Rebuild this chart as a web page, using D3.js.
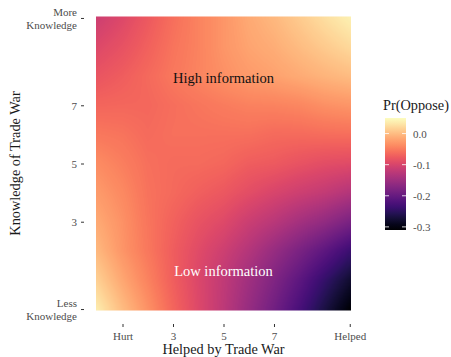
<!DOCTYPE html>
<html>
<head>
<meta charset="utf-8">
<script src="https://cdn.jsdelivr.net/npm/d3@7"></script>
<style>
  html, body { margin: 0; padding: 0; background: #ffffff; }
  svg { display: block; font-family: "Liberation Serif", "Times New Roman", serif; }
</style>
</head>
<body>
<svg id="chart" width="451" height="357"></svg>
<script>
// Grid of the predicted surface: x = helped by trade war, y = knowledge of trade war
const gridX = [0, 1, 2, 3, 4, 5, 6, 7, 8, 9, 10];
const gridY = [0, 1, 2, 3, 4, 5, 6, 7, 8, 9, 10];

// Pr(Oppose), one row per knowledge level (row 0 = least knowledge)
const prRow0  = [ 0.035, -0.001, -0.033, -0.066, -0.095, -0.124, -0.157, -0.190, -0.226, -0.266, -0.306];
const prRow1  = [ 0.014, -0.017, -0.044, -0.072, -0.097, -0.121, -0.149, -0.177, -0.208, -0.243, -0.277];
const prRow2  = [-0.004, -0.030, -0.052, -0.073, -0.092, -0.110, -0.132, -0.157, -0.182, -0.208, -0.237];
const prRow3  = [-0.015, -0.033, -0.054, -0.069, -0.083, -0.094, -0.112, -0.127, -0.145, -0.161, -0.182];
const prRow4  = [-0.026, -0.039, -0.056, -0.063, -0.071, -0.078, -0.089, -0.100, -0.110, -0.119, -0.132];
const prRow5  = [-0.037, -0.047, -0.058, -0.062, -0.062, -0.065, -0.073, -0.076, -0.083, -0.089, -0.092];
const prRow6  = [-0.052, -0.055, -0.062, -0.058, -0.058, -0.058, -0.058, -0.062, -0.062, -0.060, -0.059];
const prRow7  = [-0.066, -0.065, -0.065, -0.059, -0.054, -0.049, -0.045, -0.044, -0.041, -0.034, -0.030];
const prRow8  = [-0.081, -0.073, -0.063, -0.052, -0.043, -0.034, -0.026, -0.021, -0.014, -0.007, -0.001];
const prRow9  = [-0.095, -0.084, -0.070, -0.055, -0.044, -0.030, -0.019, -0.012, -0.001,  0.010,  0.021];
const prRow10 = [-0.110, -0.095, -0.077, -0.059, -0.044, -0.030, -0.015, -0.004,  0.010,  0.025,  0.039];
const prOppose = [prRow0, prRow1, prRow2, prRow3, prRow4, prRow5, prRow6, prRow7, prRow8, prRow9, prRow10];

// Axis ticks
const xTickValues = [1, 3, 5, 7, 10];
const xTickLabels = ["Hurt", "3", "5", "7", "Helped"];
const yTickValues = [0, 3, 5, 7, 10];
const yTickLabels = ["Less\nKnowledge", "3", "5", "7", "More\nKnowledge"];

// Colour bar
const colorLimits = [-0.31, 0.05];
const legendBreaks = [0.0, -0.1, -0.2, -0.3];
const legendLabels = ["0.0", "-0.1", "-0.2", "-0.3"];

// Annotations
const notes = [
  { text: "High information", x: 5, y: 7.95, fill: "#111111" },
  { text: "Low information",  x: 5, y: 1.3,  fill: "#ffffff" }
];

const svg = d3.select("#chart");

const xScale = d3.scaleLinear().domain([-0.05, 10.05]).range([96, 351]);
const yScale = d3.scaleLinear().domain([-0.05, 10.05]).range([310.5, 16.5]);
const color = d3.scaleSequential(d3.interpolateMagma).domain(colorLimits);

// Smoothly interpolated raster of the surface
function surface(xv, yv) {
  const cx = Math.max(gridX[0], Math.min(gridX[gridX.length - 1], xv));
  const cy = Math.max(gridY[0], Math.min(gridY[gridY.length - 1], yv));
  const i0 = Math.min(gridX.length - 2, d3.bisectRight(gridX, cx) - 1);
  const j0 = Math.min(gridY.length - 2, d3.bisectRight(gridY, cy) - 1);
  const fx = (cx - gridX[i0]) / (gridX[i0 + 1] - gridX[i0]);
  const fy = (cy - gridY[j0]) / (gridY[j0 + 1] - gridY[j0]);
  const bottom = d3.interpolateNumber(prOppose[j0][i0], prOppose[j0][i0 + 1])(fx);
  const top = d3.interpolateNumber(prOppose[j0 + 1][i0], prOppose[j0 + 1][i0 + 1])(fx);
  return d3.interpolateNumber(bottom, top)(fy);
}

const [rx0, rx1] = xScale.range();
const [ry1, ry0] = yScale.range();
const rw = Math.round(rx1 - rx0), rh = Math.round(ry1 - ry0);
const canvas = document.createElement("canvas");
canvas.width = rw; canvas.height = rh;
const ctx = canvas.getContext("2d");
const img = ctx.createImageData(rw, rh);
for (let py = 0; py < rh; py++) {
  const yv = yScale.invert(ry0 + py + 0.5);
  for (let px = 0; px < rw; px++) {
    const xv = xScale.invert(rx0 + px + 0.5);
    const c = d3.rgb(color(surface(xv, yv)));
    const k = (py * rw + px) * 4;
    img.data[k] = c.r; img.data[k + 1] = c.g; img.data[k + 2] = c.b; img.data[k + 3] = 255;
  }
}
ctx.putImageData(img, 0, 0);
svg.append("image")
  .attr("x", rx0).attr("y", ry0)
  .attr("width", rw).attr("height", rh)
  .attr("preserveAspectRatio", "none")
  .attr("href", canvas.toDataURL());

// Annotations
svg.append("g").selectAll("text").data(notes).join("text")
  .attr("x", d => xScale(d.x))
  .attr("y", d => yScale(d.y))
  .attr("text-anchor", "middle")
  .attr("dominant-baseline", "central")
  .attr("font-size", 14.5)
  .attr("fill", d => d.fill)
  .text(d => d.text);

// Axes
const tickColor = "#333333", labelColor = "#4d4d4d";

const xAxis = svg.append("g")
  .attr("transform", "translate(0,324)")
  .call(d3.axisBottom(xScale).tickValues(xTickValues)
    .tickFormat((d, i) => xTickLabels[i]).tickSize(3).tickPadding(5));
xAxis.select(".domain").remove();
xAxis.selectAll(".tick line").attr("stroke", tickColor);
xAxis.selectAll(".tick text").attr("fill", labelColor)
  .attr("font-size", 11).attr("font-family", "Liberation Serif, serif");

const yAxis = svg.append("g")
  .attr("transform", "translate(84,0)")
  .call(d3.axisLeft(yScale).tickValues(yTickValues)
    .tickFormat((d, i) => yTickLabels[i]).tickSize(3).tickPadding(4));
yAxis.select(".domain").remove();
yAxis.selectAll(".tick line").attr("stroke", tickColor);
yAxis.selectAll(".tick text").each(function (d, i) {
  const t = d3.select(this);
  const lines = yTickLabels[i].split("\n");
  t.text(null).attr("fill", labelColor).attr("font-size", 11)
    .attr("font-family", "Liberation Serif, serif").attr("dy", null);
  const lh = 12.5;
  lines.forEach((ln, k) => {
    t.append("tspan")
      .attr("x", t.attr("x"))
      .attr("y", 0)
      .attr("dy", ((k - (lines.length - 1) / 2) * lh + 3.8) + "px")
      .text(ln);
  });
});

// Axis titles
svg.append("text")
  .attr("x", xScale(5)).attr("y", 354)
  .attr("text-anchor", "middle")
  .attr("font-size", 14.3).attr("fill", "#1a1a1a")
  .text("Helped by Trade War");

svg.append("text")
  .attr("transform", `translate(15,${yScale(5)}) rotate(-90)`)
  .attr("text-anchor", "middle")
  .attr("dominant-baseline", "central")
  .attr("font-size", 14.3).attr("fill", "#1a1a1a")
  .text("Knowledge of Trade War");

// Colour bar legend
const barX = 385, barW = 21;
const legendScale = d3.scaleLinear().domain(colorLimits).range([230, 118]);
const defs = svg.append("defs");
const grad = defs.append("linearGradient").attr("id", "prGrad")
  .attr("x1", 0).attr("y1", 1).attr("x2", 0).attr("y2", 0);
d3.range(0, 1.0001, 0.05).forEach(f => {
  grad.append("stop").attr("offset", f)
    .attr("stop-color", color(colorLimits[0] + f * (colorLimits[1] - colorLimits[0])));
});
const legend = svg.append("g");
legend.append("text")
  .attr("x", 383).attr("y", 110)
  .attr("font-size", 14.3).attr("fill", "#1a1a1a")
  .text("Pr(Oppose)");
legend.append("rect")
  .attr("x", barX).attr("y", legendScale(colorLimits[1]))
  .attr("width", barW)
  .attr("height", legendScale(colorLimits[0]) - legendScale(colorLimits[1]))
  .attr("fill", "url(#prGrad)");
const lt = legend.selectAll("g.brk").data(legendBreaks).join("g").attr("class", "brk");
lt.append("line")
  .attr("x1", barX).attr("x2", barX + 4)
  .attr("y1", d => legendScale(d)).attr("y2", d => legendScale(d))
  .attr("stroke", "#ffffff").attr("stroke-opacity", 0.8);
lt.append("line")
  .attr("x1", barX + barW - 4).attr("x2", barX + barW)
  .attr("y1", d => legendScale(d)).attr("y2", d => legendScale(d))
  .attr("stroke", "#ffffff").attr("stroke-opacity", 0.8);
lt.append("text")
  .attr("x", 413).attr("y", d => legendScale(d))
  .attr("dominant-baseline", "central")
  .attr("font-size", 11).attr("fill", labelColor)
  .text((d, i) => legendLabels[i]);
</script>
</body>
</html>
